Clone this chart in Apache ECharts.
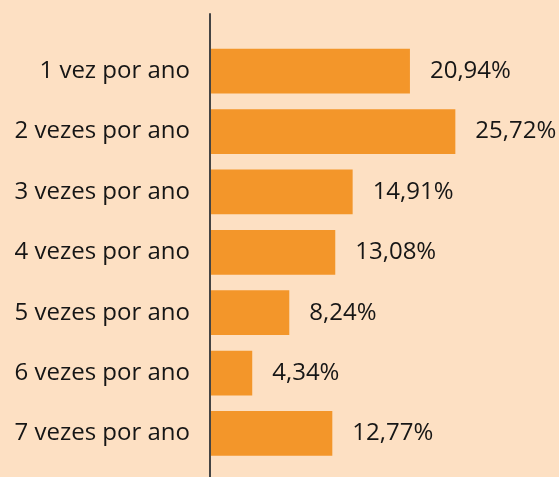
<!DOCTYPE html>
<html>
<head>
<meta charset="utf-8">
<script src="https://cdn.jsdelivr.net/npm/echarts@6/dist/echarts.min.js"></script>
<style>
  html, body { margin: 0; padding: 0; background: #FDE0C3; }
  #chart { width: 559px; height: 477px; }
</style>
</head>
<body>
<div id="chart"></div>
<script>
const categories = ['1 vez por ano', '2 vezes por ano', '3 vezes por ano', '4 vezes por ano',
  '5 vezes por ano', '6 vezes por ano', '7 vezes por ano']
const values = [20.94, 25.72, 14.91, 13.08, 8.24, 4.34, 12.77]

const textColor = '#161616'
const font = '"Open Sans", "Noto Sans", sans-serif'

let chart = echarts.init(document.getElementById('chart'))
let option = {
  backgroundColor: '#FDE0C3',
  animation: false,
  grid: [
    { left: 211, right: 63, top: 41, height: 422.6, containLabel: false },
    { left: 210, width: 2, top: 14, bottom: -5, containLabel: false }
  ],
  xAxis: [
    { gridIndex: 0, type: 'value', min: 0, max: 30, show: false },
    { gridIndex: 1, type: 'value', show: false }
  ],
  yAxis: [
    {
      gridIndex: 0,
      type: 'category',
      inverse: true,
      data: categories,
      axisLine: { show: false },
      axisTick: { show: false },
      axisLabel: {
        margin: 21,
        color: textColor,
        fontSize: 24,
        fontFamily: font
      }
    },
    {
      gridIndex: 1,
      type: 'value',
      axisLine: { show: true, lineStyle: { color: '#444444', width: 2 } },
      axisTick: { show: false },
      axisLabel: { show: false },
      splitLine: { show: false }
    }
  ],
  series: [{
    type: 'bar',
    data: values,
    barCategoryGap: '26%',
    itemStyle: { color: '#F3962A' },
    label: {
      show: true,
      position: 'right',
      distance: 20,
      color: textColor,
      fontSize: 24,
      fontFamily: font,
      formatter: p => p.value.toFixed(2).replace('.', ',') + '%'
    }
  }]
}
chart.setOption(option)
</script>
</body>
</html>
